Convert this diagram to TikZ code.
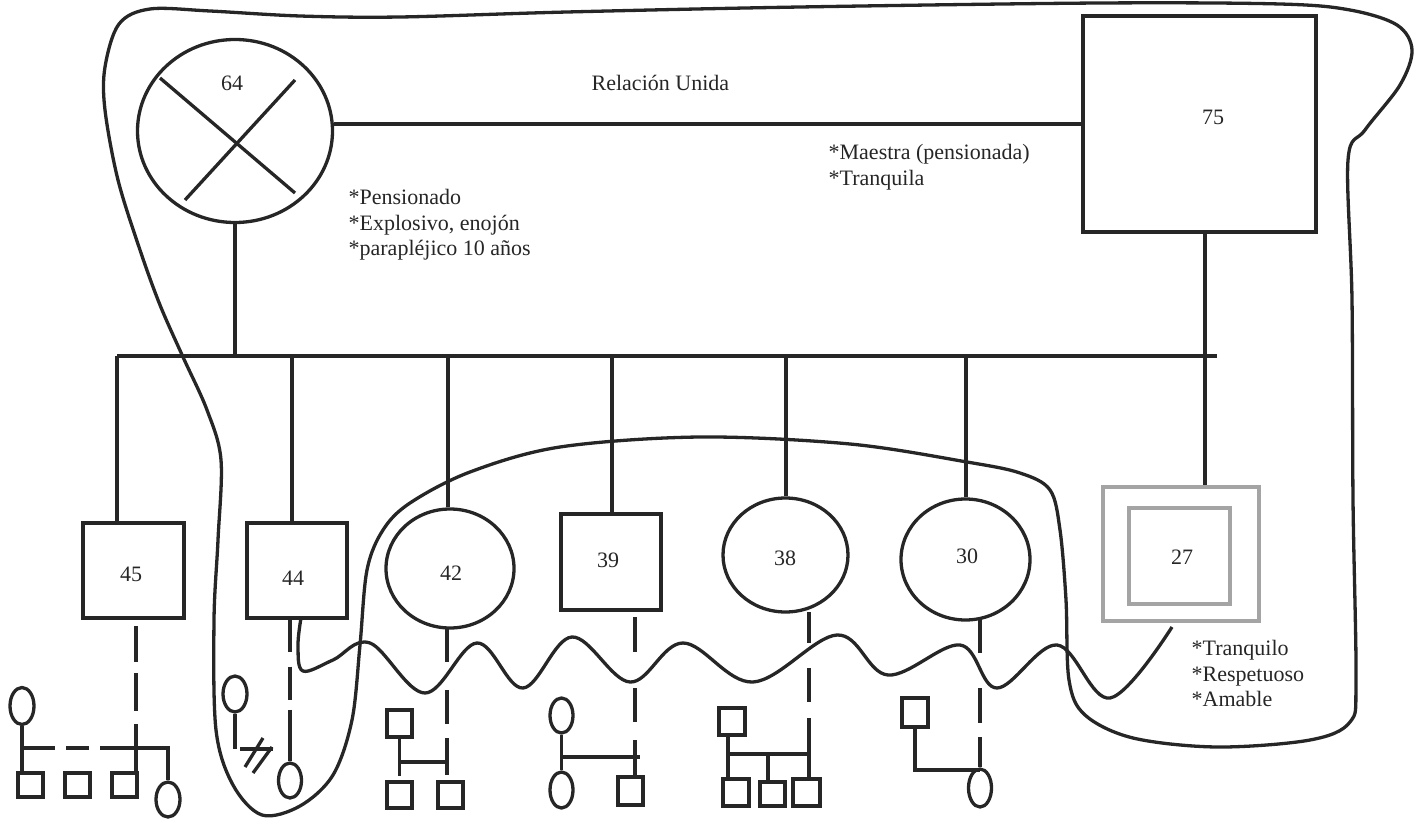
\documentclass[tikz,border=0pt]{standalone}
\usepackage{fontspec}
\setmainfont{Liberation Serif}
\usetikzlibrary{shapes.geometric}
\definecolor{ink}{HTML}{262626}
\definecolor{pale}{HTML}{A4A4A4}
\begin{document}
\begin{tikzpicture}[x=1pt,y=-1pt,color=ink,line width=3.3pt,
  male/.style={draw,rectangle,inner sep=0pt},
  female/.style={draw,ellipse,inner sep=0pt},
  palebox/.style={draw=pale,rectangle,inner sep=0pt},
  num/.style={font=\fontsize{22}{25}\selectfont,inner sep=0pt,text=ink},
  note/.style={font=\fontsize{22}{25.5}\selectfont,align=left,inner sep=0pt,anchor=north west,text=ink},
  loop/.style={line width=3.3pt,line join=round}]
\useasboundingbox (0,0) rectangle (1423,821);

% ---- generation 1
\node[female,minimum width=195pt,minimum height=183pt] (p64) at (235,131) {};
\node[male,minimum width=233pt,minimum height=216pt] (p75) at (1199.5,124) {};
\node[num] (t64) at (232,83) {64};
\node[num] (t75) at (1213,117) {75};
\draw (160,78) -- (295,193);
\draw (295,80) -- (185,200);

% ---- generation 2
\node[male,minimum width=101pt,minimum height=95pt] (p45) at (133.5,570.5) {};
\node[male,minimum width=100pt,minimum height=95pt] (p44) at (297,570.5) {};
\node[female,minimum width=128pt,minimum height=119pt] (p42) at (450,568.5) {};
\node[male,minimum width=100pt,minimum height=96pt] (p39) at (611,562) {};
\node[female,minimum width=125pt,minimum height=114pt] (p38) at (785.5,555) {};
\node[female,minimum width=129pt,minimum height=121pt] (p30) at (965.5,559.5) {};
\node[palebox,minimum width=156pt,minimum height=134pt] (p27o) at (1181,554) {};
\node[palebox,minimum width=101pt,minimum height=96pt] (p27i) at (1179.5,556) {};
\node[num] (t45) at (131,574) {45};
\node[num] (t44) at (293,578) {44};
\node[num] (t42) at (451,573) {42};
\node[num] (t39) at (608,560) {39};
\node[num] (t38) at (785,558) {38};
\node[num] (t30) at (967,556) {30};
\node[num] (t27) at (1182,557) {27};

% ---- relations
\coordinate (sibL) at (117,356);
\coordinate (sibR) at (1217,356);
\coordinate (d75) at (1205,0);
\draw (p64.east |- p75.west) -- (p75.west);
\draw (sibL) -- (sibR);
\draw (p64.south) -- (p64.south |- sibL);
\draw (p75.south -| d75) -- (p27o.north -| d75);
\draw (sibL) -- (sibL |- p45.north);
\draw (292,356) -- (p44.north -| 292,0);
\draw (448,356) -- (p42.north -| 448,0);
\draw (612,356) -- (p39.north -| 612,0);
\draw (786,356) -- (p38.north -| 786,0);
\draw (966,356) -- (p30.north -| 966,0);

% ---- generation 3: 45
\node[female,minimum width=24pt,minimum height=37pt] (g45f) at (22,706) {};
\node[male,minimum width=25pt,minimum height=24pt] (g45a) at (30.5,785) {};
\node[male,minimum width=25pt,minimum height=24pt] (g45b) at (77.5,785) {};
\node[male,minimum width=25pt,minimum height=24pt] (g45c) at (124.5,785) {};
\node[female,minimum width=24pt,minimum height=35pt] (g45d) at (168,799.5) {};
\draw (g45f.south) -- (g45f.south |- g45a.north);
\draw[dash pattern=on 33pt off 11pt on 23pt off 11pt on 300pt] (22,748) -- (168,748) -- (g45d.north);
\draw[dash pattern=on 36pt off 11pt on 38pt off 13pt on 80pt] (136,626) -- (136,773);

% ---- generation 3: 44
\node[female,minimum width=24pt,minimum height=36pt] (g44f) at (235,694) {};
\node[female,minimum width=23pt,minimum height=35pt] (g44m) at (290,780.5) {};
\draw (g44f.south) -- ++(0,35) coordinate (g44fe);
\draw (240,749) -- (273,749);
\draw (245,767) -- (263,738);
\draw (253,773) -- (272,747);
\draw[dash pattern=on 32pt off 15pt on 33pt off 10pt on 80pt] (p44.south -| g44m.north) -- (g44m.north);

% ---- generation 3: 42
\node[male,minimum width=25pt,minimum height=27pt] (g42a) at (399.5,723.5) {};
\node[male,minimum width=25pt,minimum height=26pt] (g42b) at (399.5,795) {};
\node[male,minimum width=25pt,minimum height=26pt] (g42c) at (450.5,795) {};
\draw (g42a.south) -- (399.5,776);
\draw (399.5,762) -- (447,762);
\draw[dash pattern=on 34pt off 28pt on 34pt off 14pt on 60pt] (447,628) -- (447,775);

% ---- generation 3: 39
\node[female,minimum width=23pt,minimum height=35pt] (g39f) at (561.5,715.5) {};
\node[female,minimum width=23pt,minimum height=36pt] (g39g) at (561.5,790) {};
\node[male,minimum width=25pt,minimum height=28pt] (g39s) at (630.5,791) {};
\draw (g39f.south) -- (g39g.north);
\draw (561.5,757) -- (640,757);
\draw[dash pattern=on 35pt off 36pt on 34pt off 18pt on 60pt] (635,617) -- (635 ,777);

% ---- generation 3: 38
\node[male,minimum width=26pt,minimum height=27pt] (g38a) at (732,721.5) {};
\node[male,minimum width=26pt,minimum height=27pt] (g38b) at (736,792.5) {};
\node[male,minimum width=25pt,minimum height=24pt] (g38c) at (772.5,794) {};
\node[male,minimum width=27pt,minimum height=27pt] (g38d) at (806.5,792.5) {};
\draw (g38a.south -| 728,0) -- (g38b.north -| 728,0);
\draw (728,754) -- (809,754);
\draw (768,754) -- (g38c.north -| 768,0);
\draw[dash pattern=on 31pt off 25pt on 34pt off 16pt on 80pt] (809,612) -- (g38d.north -| 809,0);

% ---- generation 3: 30
\node[male,minimum width=26pt,minimum height=29pt] (g30s) at (915,712.5) {};
\node[female,minimum width=23pt,minimum height=38pt] (g30f) at (980,788) {};
\draw (g30s.south) -- (915,770) -- (980,770);
\draw[dash pattern=on 33pt off 35pt on 35pt off 14pt on 80pt] (980,620) -- (g30f.north);

% ---- notes
\node[note] (n64) at (347,188) {*Pensionado\\*Explosivo, enojón\\*parapléjico 10 años};
\node[note] (rel) at (590,74) {Relación Unida};
\node[note] (n75) at (827,143) {*Maestra (pensionada)\\*Tranquila};
\node[note] (n27) at (1190,639) {*Tranquilo\\*Respetuoso\\*Amable};

% ---- wavy line (44 ... 27)
\draw[loop] plot[smooth,tension=0.6] coordinates {
 (301,618) (298,646) (303,671) (333,660) (370,643) (425,693) (477,643) (523,688)
 (572,637) (630,682) (683,643) (753,682) (837,635) (888,675) (960,645) (997,688)
 (1057,645) (1110,698) (1172,627)};

% ---- big enclosing loop
\draw[loop] plot[smooth cycle,tension=0.55] coordinates {
 (150,9) (119,24) (105,67) (105,110) (118,180) (140,250) (160,305) (183,357)
 (207,410) (221,460) (218,540) (214,620) (216,730) (233,785) (262,815) (300,806)
 (333,775) (352,720) (360,645) (367,570) (383,530) (410,503) (470,472) (560,447)
 (700,437) (850,444) (967,462) (1020,473) (1050,490) (1060,530) (1066,600)
 (1069,680) (1085,715) (1133,738) (1217,747) (1310,740) (1350,722) (1356,680)
 (1353,500) (1352,300) (1348,160) (1365,130) (1400,85) (1412,50) (1397,25)
 (1350,10) (1280,4) (1100,3) (800,7) (567,12) (400,17) (300,16) (210,11)};
\end{tikzpicture}
\end{document}
